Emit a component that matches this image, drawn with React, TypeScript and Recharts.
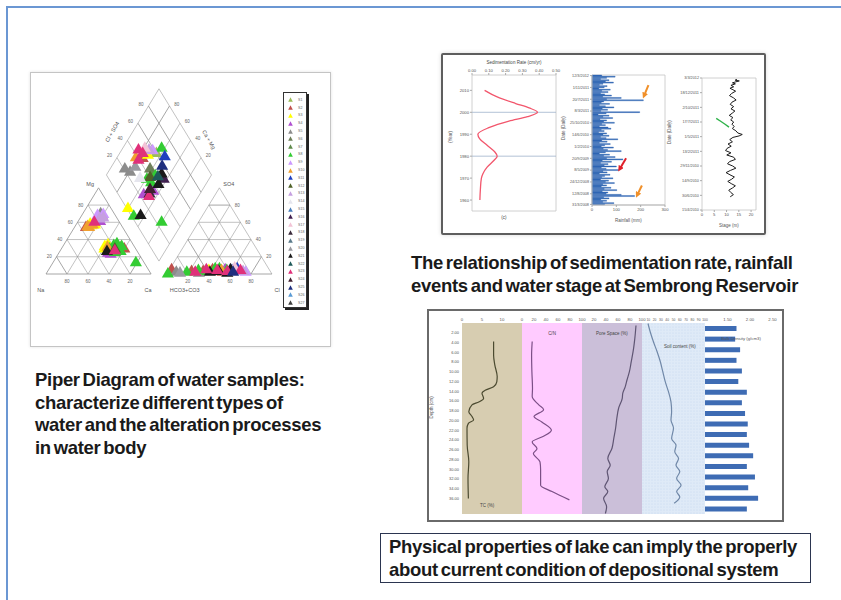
import React from "react";
import {
  Bar,
  BarChart,
  CartesianGrid,
  Line,
  LineChart,
  ReferenceArea,
  ReferenceDot,
  ReferenceLine,
  Scatter,
  ScatterChart,
  XAxis,
  YAxis,
  ZAxis,
} from "recharts";

const FONT = "'Liberation Sans', Arial, sans-serif";
const INK = "#555";

// ---------- Piper diagram ----------
const SAMPLES = [
  "S1", "S2", "S3", "S4", "S5", "S6", "S7", "S8", "S9", "S10", "S11", "S12", "S13", "S14",
  "S15", "S16", "S17", "S18", "S19", "S20", "S21", "S22", "S23", "S24", "S25", "S26", "S27",
];
const SAMPLE_COLORS = [
  "#9bbb59", "#c0504d", "#ffff00", "#b050d0", "#8c8c8c", "#6e7f5a", "#5f8a4a", "#33cc33",
  "#cc99ff", "#f0a030", "#1f3fbf", "#4f6228", "#c6a0e0", "#e6e6ee", "#4a7ebb", "#3f1f4f",
  "#f2c4d6", "#3a2a3a", "#5a7a8a", "#9a9aa0", "#1a1a1a", "#1f5a5a", "#e0307a", "#402030",
  "#1f2f7f", "#5b9bd5", "#404040",
];
// [sample, Ca %, Mg %]  (Na+K = rest)
const CATIONS: [number, number, number][] = [
  [3, 16, 66], [3, 18, 63], [3, 21, 61], [8, 15, 68], [8, 20, 69], [12, 19, 64], [12, 22, 65],
  [4, 17, 70], [4, 20, 67], [22, 16, 60], [2, 13, 58], [2, 15, 56], [2, 18, 57], [2, 17, 59],
  [9, 12, 55], [9, 14, 54], [9, 16, 57], [1, 11, 54],
  [2, 40, 32], [2, 42, 34], [2, 41, 29], [9, 43, 31], [7, 48, 33], [7, 52, 30], [7, 55, 28],
  [7, 50, 35], [7, 58, 26], [7, 53, 25], [7, 46, 29], [7, 56, 32], [1, 56, 31], [1, 60, 29],
  [3, 47, 24], [3, 50, 23], [22, 52, 27], [20, 45, 26], [4, 49, 30], [0, 54, 27], [11, 51, 29],
  [7, 79, 13],
];
// [sample, Cl %, SO4 %]  (HCO3+CO3 = rest)
const ANIONS: [number, number, number][] = [
  [1, 2, 5], [7, 1, 0], [4, 8, 2], [19, 12, 1], [7, 18, 2], [1, 22, 3], [22, 26, 2], [7, 28, 4],
  [4, 30, 1], [1, 33, 3], [22, 35, 5], [7, 37, 3], [2, 38, 4], [20, 40, 2], [1, 41, 5], [7, 43, 6],
  [0, 44, 3], [22, 46, 4], [20, 48, 3], [7, 47, 6], [9, 50, 4], [1, 52, 2], [3, 53, 5], [7, 55, 4],
  [22, 56, 3], [20, 58, 5], [10, 60, 4], [24, 62, 2], [10, 64, 6], [3, 66, 3], [22, 68, 4],
  [12, 71, 3], [20, 57, 1], [16, 61, 7], [8, 74, 2],
];
// [sample, Ca+Mg %, Cl+SO4 %]
const DIAMOND: [number, number, number][] = [
  [22, 84, 45], [22, 78, 47], [16, 79, 52], [2, 72, 51], [9, 82, 38], [10, 55, 66], [7, 63, 68],
  [4, 86, 21], [4, 79, 24], [19, 77, 32], [22, 78, 39], [7, 59, 36], [7, 53, 38], [7, 53, 46],
  [20, 45, 44], [20, 48, 53], [15, 43, 52], [3, 53, 24], [22, 47, 28], [3, 46, 35], [2, 60, 1],
  [7, 50, 2], [20, 44, 9], [7, 20, 25], [0, 65, 60], [8, 70, 58], [12, 74, 55], [11, 57, 40],
  [6, 56, 43], [21, 50, 48], [24, 52, 58], [1, 75, 44], [13, 66, 30], [5, 62, 45], [17, 48, 30],
  [23, 50, 33],
];

// ---------- Sedimentation rate ----------
const SED_YEARS = [1960, 1965, 1970, 1972, 1975, 1978, 1980, 1982, 1985, 1988, 1990, 1993, 1996, 1998, 2000, 2002, 2004, 2007, 2010];
const SED_RATE = [0.047, 0.05, 0.056, 0.065, 0.09, 0.13, 0.15, 0.135, 0.09, 0.045, 0.035, 0.1, 0.22, 0.33, 0.39, 0.34, 0.26, 0.15, 0.075];
const SED_TICKS_YEAR = [1960, 1970, 1980, 1990, 2000, 2010];

// ---------- Rainfall ----------
const RAIN_MM = [
  40, 95, 60, 35, 70, 55, 88, 45, 30, 62, 50, 28, 75, 40, 66, 35, 52, 80, 44, 120,
  60, 211, 48, 38, 72, 30, 55, 90, 42, 64, 36, 196, 58, 25, 70, 45, 85, 33, 60, 48,
  92, 40, 55, 30, 66, 78, 38, 50, 27, 60, 45, 70, 35, 58, 106, 40, 62, 30, 75, 52,
  38, 88, 46, 64, 120, 55, 30, 72, 48, 95, 60, 127, 42, 80, 35, 66, 50, 100, 38, 58,
  110, 45, 62, 30, 74, 52, 40, 86, 35, 68, 55, 92, 44, 60, 38, 78, 50, 102, 42, 65,
  58, 120, 175, 48, 70, 36, 60, 44, 90, 52,
];
const RAIN_DATES = [
  "12/3/2012", "1/11/2011", "20/7/2011", "8/3/2011", "25/10/2010", "14/6/2010",
  "1/2/2010", "20/9/2009", "8/5/2009", "24/12/2008", "12/8/2008", "31/3/2008",
];
const RAIN_TICKS = [0, 10, 20, 30, 40, 50, 60, 70, 80, 90, 100, 109];

// ---------- Water stage ----------
const STAGE_T = [
  0.9, 1.5, 2, 2.6, 3.3, 4, 5, 6, 7, 8, 9, 10.5, 12, 13.5, 15, 16.5, 18, 19.5, 21, 22.5, 24,
  25.5, 27, 28.5, 30, 31.5, 33, 34.5, 36, 37.5, 38.5, 39.5, 40.5, 42, 43.5, 45, 46.5, 48, 49.5,
  51, 52.5, 54, 55.5, 57, 58.5, 60, 61.5, 63, 64.5, 66, 67.5, 69, 70.5, 72, 73.5, 75, 76.5, 78,
  79.5, 81,
];
const STAGE_M = [
  14.2, 13.5, 15.2, 13.8, 12.4, 13.6, 11.8, 12.9, 11.4, 12.6, 13.7, 12.1, 11.2, 12.8, 13.9,
  12.2, 11.5, 12.9, 11.8, 13.4, 12.3, 11.1, 12.6, 11.7, 12.9, 12.2, 13.1, 12.4, 13.8, 14.6,
  16.4, 15.1, 12.6, 11.3, 12.4, 10.6, 11.9, 10.2, 9.6, 11.8, 10.1, 12.9, 13.6, 11.2, 10.4,
  12.5, 13.8, 11.6, 9.8, 11.4, 13.2, 12.1, 10.5, 11.9, 13.6, 12.4, 10.9, 11.7, 12.8, 11.5,
];
const DROP_T = [27.5, 29.5, 31.5, 33.5];
const DROP_M = [5.8, 7.6, 9.4, 11.0];
const STAGE_DATES = [
  "3/3/2012", "18/12/2011", "2/10/2011", "17/7/2011", "1/5/2011",
  "13/2/2011", "29/11/2010", "14/9/2010", "30/6/2010", "15/4/2010",
];

// ---------- Core profile ----------
const DEPTH_TICKS = [2, 4, 6, 8, 10, 12, 14, 16, 18, 20, 22, 24, 26, 28, 30, 32, 34, 36];
const TC_DEPTH = [3.8, 6.6, 8.6, 11.0, 12.1, 13.1, 13.8, 14.4, 15.5, 16.2, 16.8, 18.2, 19.2, 19.9, 20.6, 21.6, 25.1, 28.5, 31.9, 36.0];
const TC_PCT = [7.9, 7.9, 8.2, 8.8, 8.7, 7.9, 5.8, 5.0, 5.4, 4.2, 2.5, 1.7, 2.5, 2.9, 1.6, 1.25, 1.3, 1.7, 1.5, 1.6];
const CN_DEPTH = [3.8, 6.6, 10.0, 13.4, 15.1, 16.8, 17.8, 19.2, 20.3, 22.0, 23.3, 24.4, 25.8, 26.8, 28.5, 30.0, 33.3, 34.6, 36.3];
const CN_VAL = [17, 16, 16.5, 17.5, 17, 28, 36, 20, 33, 49, 35, 17, 25, 19, 30, 31, 31, 50, 79];
const PORE_DEPTH = [0.5, 3.2, 5.2, 8.0, 10.0, 11.7, 13.1, 14.4, 15.5, 17.5, 19.6, 21.6, 23.7, 25.7, 27.8, 29.2, 30.5, 31.9, 33.6, 34.6, 36.0, 37.7, 39.1];
const PORE_PCT = [90, 88, 86, 82, 79, 75, 72, 68, 67, 61, 58, 56, 53, 50, 43, 47, 42, 44, 38, 43, 36, 41, 39];
const SOIL_DEPTH = [0.1, 1.8, 3.8, 5.9, 7.9, 10.0, 12.1, 14.1, 16.2, 18.2, 19.9, 21.6, 23.7, 25.1, 26.4, 27.8, 29.2, 30.5, 31.9, 33.3, 34.6, 35.7, 37.0];
const SOIL_PCT = [9.5, 13, 18, 24, 29, 33, 37, 42, 46, 47, 46, 50, 47, 54, 52, 58, 54, 60, 55, 62, 55, 60, 51];
const BULK_DENSITY = [1.7, 1.67, 1.78, 1.7, 1.82, 1.74, 1.93, 1.82, 1.89, 1.95, 1.93, 1.98, 2.07, 1.93, 2.11, 1.96, 2.18, 1.93];

// ---------- geometry helpers (Piper) ----------
type Pt = { x: number; y: number };
const H = Math.sqrt(3) / 2;
const GAP = 0.15;
const catXY = (ca: number, mg: number): Pt => ({ x: (ca + mg / 2) / 100, y: (mg / 100) * H });
const anXY = (cl: number, so4: number): Pt => ({ x: 1 + GAP + (cl + so4 / 2) / 100, y: (so4 / 100) * H });
const DB: Pt = { x: 1 + GAP / 2, y: GAP * H };
const diaXY = (u: number, v: number): Pt => ({ x: DB.x + (v - u) / 200, y: DB.y + (H * (u + v)) / 100 });
const STEPS = [20, 40, 60, 80];

function triangleSegs(o: number): [Pt, Pt][] {
  const A = { x: o, y: 0 };
  const B = { x: o + 1, y: 0 };
  const C = { x: o + 0.5, y: H };
  const segs: [Pt, Pt][] = [[A, B], [B, C], [C, A]];
  for (const s of STEPS) {
    const k = s / 100;
    segs.push([{ x: o + k / 2, y: k * H }, { x: o + 1 - k / 2, y: k * H }]);
    segs.push([{ x: o + k, y: 0 }, { x: o + (1 + k) / 2, y: (1 - k) * H }]);
    segs.push([{ x: o + 1 - k, y: 0 }, { x: o + (1 - k) / 2, y: (1 - k) * H }]);
  }
  return segs;
}
function diamondSegs(): [Pt, Pt][] {
  const segs: [Pt, Pt][] = [
    [diaXY(0, 0), diaXY(100, 0)],
    [diaXY(100, 0), diaXY(100, 100)],
    [diaXY(100, 100), diaXY(0, 100)],
    [diaXY(0, 100), diaXY(0, 0)],
  ];
  for (const k of STEPS) {
    segs.push([diaXY(k, 0), diaXY(k, 100)]);
    segs.push([diaXY(0, k), diaXY(100, k)]);
  }
  return segs;
}
const PIPER_SEGS = [...triangleSegs(0), ...triangleSegs(1 + GAP), ...diamondSegs()];

const EDGE_LABELS: { p: Pt; t: string }[] = [
  ...STEPS.map((k) => ({ p: { x: catXY(0, k).x - 0.07, y: catXY(0, k).y }, t: String(k) })),
  ...STEPS.map((k) => ({ p: { x: catXY(k, 0).x, y: -0.07 }, t: String(100 - k) })),
  ...STEPS.map((k) => ({ p: { x: anXY(100 - k, k).x + 0.07, y: anXY(100 - k, k).y }, t: String(k) })),
  ...STEPS.map((k) => ({ p: { x: anXY(k, 0).x, y: -0.07 }, t: String(k) })),
  ...STEPS.map((k) => ({ p: { x: diaXY(100, k).x - 0.07, y: diaXY(100, k).y + 0.02 }, t: String(k) })),
  ...STEPS.map((k) => ({ p: { x: diaXY(k, 100).x + 0.07, y: diaXY(k, 100).y + 0.02 }, t: String(k) })),
];
const CORNER_LABELS = [
  { t: "Mg", x: 0.42, y: 0.9, a: 0 },
  { t: "Na", x: -0.05, y: -0.16, a: 0 },
  { t: "Ca", x: 0.97, y: -0.16, a: 0 },
  { t: "HCO3+CO3", x: 1.32, y: -0.16, a: 0 },
  { t: "Cl", x: 2.2, y: -0.16, a: 0 },
  { t: "SO4", x: 1.74, y: 0.9, a: 0 },
  { t: "Cl + SO4", x: 0.63, y: 1.43, a: -60 },
  { t: "Ca + Mg", x: 1.55, y: 1.35, a: 60 },
];

function samplePoints(s: number): Pt[] {
  return [
    ...CATIONS.filter((p) => p[0] === s).map((p) => catXY(p[1], p[2])),
    ...ANIONS.filter((p) => p[0] === s).map((p) => anXY(p[1], p[2])),
    ...DIAMOND.filter((p) => p[0] === s).map((p) => diaXY(p[1], p[2])),
  ];
}

const tick = (size: number) => ({ fontSize: size, fill: INK, fontFamily: FONT });
const abs = (left: number, top: number): React.CSSProperties => ({ position: "absolute", left, top });

function PiperChart() {
  return (
    <div style={abs(30, 72)}>
      <ScatterChart width={301} height={275} margin={{ top: 13, right: 58, bottom: 73, left: 16 }}>
        <XAxis type="number" dataKey="x" domain={[0, 2.16]} hide />
        <YAxis type="number" dataKey="y" domain={[0, 1.9]} hide />
        <ZAxis range={[10, 10]} />
        {PIPER_SEGS.map((s, i) => (
          <ReferenceLine key={i} segment={s} stroke="#8f8f8f" strokeWidth={i % 13 < 3 ? 0.8 : 0.55} ifOverflow="visible" />
        ))}
        {EDGE_LABELS.map((l, i) => (
          <ReferenceDot key={"e" + i} x={l.p.x} y={l.p.y} r={0} fill="none" stroke="none" ifOverflow="visible"
            label={{ value: l.t, position: "center", fontSize: 4.5, fill: "#666" }} />
        ))}
        {CORNER_LABELS.map((l, i) => (
          <ReferenceDot key={"c" + i} x={l.x} y={l.y} r={0} fill="none" stroke="none" ifOverflow="visible"
            label={{ value: l.t, position: "center", fontSize: 5.5, fill: "#555", angle: l.a }} />
        ))}
        {SAMPLES.map((name, s) => (
          <Scatter key={name} name={name} data={samplePoints(s)} shape="triangle" fill={SAMPLE_COLORS[s]} isAnimationActive={false} />
        ))}
      </ScatterChart>
    </div>
  );
}

function PiperLegend() {
  return (
    <div style={{ ...abs(283, 92), width: 24, height: 216, background: "#fff", border: "1px solid #333", boxShadow: "2px 2px 0 #222", paddingTop: 3, boxSizing: "border-box" }}>
      {SAMPLES.map((name, s) => (
        <div key={name} style={{ height: 7.8, display: "flex", alignItems: "center", fontSize: 3.6, color: "#666", fontFamily: FONT }}>
          <svg width={5} height={5} style={{ marginLeft: 4, marginRight: 5 }}>
            <polygon points="2.5,0.3 4.8,4.7 0.2,4.7" fill={SAMPLE_COLORS[s]} />
          </svg>
          {name}
        </div>
      ))}
    </div>
  );
}

function SedimentChart() {
  const data = SED_YEARS.map((y, i) => ({ year: y, rate: SED_RATE[i] }));
  return (
    <div style={abs(443, 55)}>
      <LineChart width={118} height={178} data={data} margin={{ top: 12, right: 5, bottom: 22, left: 5 }}>
        <XAxis type="number" dataKey="rate" orientation="top" domain={[0, 0.5]} ticks={[0, 0.1, 0.2, 0.3, 0.4, 0.5]}
          tickFormatter={(v: number) => v.toFixed(2)} height={8} tick={tick(4.2)} tickSize={2} tickMargin={1}
          axisLine={false} tickLine={{ stroke: "#aaa" }} interval={0} />
        <YAxis type="number" domain={[1955, 2017]} ticks={SED_TICKS_YEAR} width={24} tick={tick(4.2)} tickSize={2}
          tickMargin={1} axisLine={false} tickLine={{ stroke: "#aaa" }} interval={0}
          label={{ value: "(Year)", angle: -90, position: "insideLeft", offset: 2, fontSize: 4.5, fill: INK }} />
        <ReferenceArea x1={0} x2={0.5} fill="none" stroke="#c4c4c4" strokeWidth={0.8} />
        <ReferenceLine y={2000} stroke="#9fb3cc" strokeWidth={0.8} />
        <ReferenceLine y={1980} stroke="#9fb3cc" strokeWidth={0.8} />
        <ReferenceDot x={0.25} y={2017} r={0} fill="none" stroke="none" ifOverflow="visible"
          label={{ value: "Sedimentation Rate (cm/yr)", position: "top", offset: 11, fontSize: 4.5, fill: "#444" }} />
        <ReferenceDot x={0.19} y={1955} r={0} fill="none" stroke="none" ifOverflow="visible"
          label={{ value: "(c)", position: "bottom", offset: 5, fontSize: 4.5, fill: "#444" }} />
        <Line dataKey="year" type="monotoneY" stroke="#f2566c" strokeWidth={1.3} dot={false} isAnimationActive={false} />
      </LineChart>
    </div>
  );
}

function RainfallChart() {
  const data = RAIN_MM.map((mm, i) => ({ i, mm }));
  const arrows = [
    { from: { x: 232, y: 8 }, to: { x: 214, y: 17 }, c: "#f0902a", m: "url(#arrO)" },
    { from: { x: 140, y: 70 }, to: { x: 114, y: 79 }, c: "#e0202a", m: "url(#arrR)" },
    { from: { x: 205, y: 93 }, to: { x: 186, y: 101 }, c: "#f0902a", m: "url(#arrO)" },
  ];
  return (
    <div style={abs(560, 55)}>
      <BarChart layout="vertical" width={110} height={178} data={data} barCategoryGap={0}
        margin={{ top: 20, right: 5, bottom: 5, left: 0 }}>
        <defs>
          <marker id="arrO" markerWidth="3" markerHeight="3" refX="1.5" refY="1.5" orient="auto">
            <path d="M0,0 L3,1.5 L0,3 z" fill="#f0902a" />
          </marker>
          <marker id="arrR" markerWidth="3" markerHeight="3" refX="1.5" refY="1.5" orient="auto">
            <path d="M0,0 L3,1.5 L0,3 z" fill="#e0202a" />
          </marker>
        </defs>
        <XAxis type="number" dataKey="mm" domain={[0, 300]} ticks={[0, 100, 200, 300]} height={23} tick={tick(4.2)}
          tickSize={2} tickMargin={1} axisLine={{ stroke: "#bbb" }} tickLine={{ stroke: "#aaa" }} interval={0}
          label={{ value: "Rainfall (mm)", position: "insideBottom", offset: 6, fontSize: 4.5, fill: INK }} />
        <YAxis type="category" dataKey="i" width={32} ticks={RAIN_TICKS} interval={0} tick={tick(3.8)} tickSize={2}
          tickMargin={1} axisLine={{ stroke: "#bbb" }} tickLine={{ stroke: "#aaa" }}
          tickFormatter={(v: number) => RAIN_DATES[RAIN_TICKS.indexOf(v)] ?? ""}
          label={{ value: "Date (Daily)", angle: -90, position: "insideLeft", offset: 3, fontSize: 4.5, fill: INK }} />
        <ReferenceArea x1={0} x2={300} fill="none" stroke="#c4c4c4" strokeWidth={0.8} />
        <Bar dataKey="mm" fill="#2f66b3" stroke="#2f66b3" strokeWidth={0.35} isAnimationActive={false} />
        {arrows.map((a, k) => (
          <ReferenceLine key={k} segment={[a.from, a.to]} stroke={a.c} strokeWidth={2} markerEnd={a.m} ifOverflow="visible" />
        ))}
      </BarChart>
    </div>
  );
}

function StageChart() {
  const main = STAGE_T.map((t, i) => ({ t, v: STAGE_M[i] }));
  const drop = DROP_T.map((t, i) => ({ t, v: DROP_M[i] }));
  return (
    <div style={abs(666, 55)}>
      <LineChart width={97} height={178} margin={{ top: 23, right: 7, bottom: 0, left: 0 }}>
        <XAxis type="number" dataKey="v" domain={[0, 22]} ticks={[0, 5, 10, 15, 20]} height={23} tick={tick(4.2)}
          tickSize={2} tickMargin={1} axisLine={false} tickLine={{ stroke: "#aaa" }} interval={0}
          label={{ value: "Stage (m)", position: "insideBottom", offset: 6, fontSize: 4.5, fill: INK }} />
        <YAxis type="number" domain={[0, 90]} reversed ticks={[0, 10, 20, 30, 40, 50, 60, 70, 80, 90]} width={36}
          tick={tick(3.8)} tickSize={2} tickMargin={1} axisLine={false} tickLine={{ stroke: "#aaa" }} interval={0}
          tickFormatter={(v: number) => STAGE_DATES[v / 10]}
          label={{ value: "Date (Daily)", angle: -90, position: "insideLeft", offset: 3, fontSize: 4.5, fill: INK }} />
        <ReferenceArea x1={0} x2={22} fill="none" stroke="#c4c4c4" strokeWidth={0.8} />
        <Line data={main} dataKey="t" type="linear" stroke="#1c1c1c" strokeWidth={1} dot={false} isAnimationActive={false} />
        <Line data={drop} dataKey="t" type="linear" stroke="#2fb24a" strokeWidth={1.4} dot={false} isAnimationActive={false} />
      </LineChart>
    </div>
  );
}

type ProfileProps = {
  left: number;
  width: number;
  depth: number[];
  values: number[];
  domain: [number, number];
  ticks: number[];
  bg: string;
  stroke: string;
  showDepth?: boolean;
  tickSize?: number;
  title?: { text: string; x: number; y: number };
  dots?: boolean;
};

function ProfileChart(p: ProfileProps) {
  const data = p.depth.map((d, i) => ({ d, v: p.values[i] }));
  const yw = p.showDepth ? 33 : 0;
  return (
    <div style={abs(p.left - yw, 311)}>
      <LineChart width={p.width + yw} height={207} data={data} margin={{ top: 2, right: 0, bottom: 4, left: 0 }}>
        {p.dots && (
          <defs>
            <pattern id="dots" width="3" height="3" patternUnits="userSpaceOnUse">
              <circle cx="1" cy="1" r="0.45" fill="#a9c3e3" />
            </pattern>
          </defs>
        )}
        <CartesianGrid fill={p.bg} horizontal={false} vertical={false} />
        {p.dots && <ReferenceArea x1={p.domain[0]} x2={p.domain[1]} fill="url(#dots)" fillOpacity={1} />}
        <XAxis type="number" dataKey="v" orientation="top" domain={p.domain} ticks={p.ticks} interval={0} height={10}
          tick={tick(p.tickSize ?? 4.3)} tickSize={1} tickMargin={1} axisLine={false} tickLine={false} />
        <YAxis type="number" domain={[0, 39.2]} reversed ticks={DEPTH_TICKS} interval={0} hide={!p.showDepth}
          width={yw} tick={tick(4)} tickSize={2} tickMargin={1} axisLine={false} tickLine={false}
          tickFormatter={(v: number) => v.toFixed(2)}
          label={{ value: "Depth (cm)", angle: -90, position: "insideLeft", offset: 2, fontSize: 4.5, fill: INK }} />
        {p.title && (
          <ReferenceDot x={p.title.x} y={p.title.y} r={0} fill="none" stroke="none" ifOverflow="visible"
            label={{ value: p.title.text, position: "center", fontSize: 4.5, fill: "#444" }} />
        )}
        <Line dataKey="d" type="monotoneY" stroke={p.stroke} strokeWidth={1.2} dot={false} isAnimationActive={false} />
      </LineChart>
    </div>
  );
}

function BulkDensityChart() {
  const data = BULK_DENSITY.map((g, k) => ({ k, g }));
  return (
    <div style={abs(705, 311)}>
      <BarChart layout="vertical" width={76} height={207} data={data} barCategoryGap={0}
        margin={{ top: 2, right: 4, bottom: 4, left: 0 }}>
        <XAxis type="number" dataKey="g" orientation="top" domain={[1.0, 2.6]} ticks={[1.5, 2.0, 2.5]} interval={0}
          height={10} tick={tick(4.3)} tickSize={1} tickMargin={1} axisLine={false} tickLine={false}
          tickFormatter={(v: number) => v.toFixed(2)} />
        <YAxis type="category" dataKey="k" hide />
        <Bar dataKey="g" barSize={5} fill="#3e6cb4" isAnimationActive={false} />
        <ReferenceDot x={1.8} y={1} r={0} fill="none" stroke="none" ifOverflow="visible"
          label={{ value: "Bulk Density (g/cm3)", position: "center", fontSize: 4.3, fill: "#555" }} />
      </BarChart>
    </div>
  );
}

const caption: React.CSSProperties = {
  position: "absolute",
  fontFamily: FONT,
  fontWeight: 700,
  fontSize: 18.5,
  lineHeight: "22.5px",
  color: "#1a1a1a",
  letterSpacing: -0.3,
  wordSpacing: -2,
  whiteSpace: "nowrap",
};

export default function App() {
  return (
    <div style={{ position: "fixed", left: 0, top: 0, width: 841, height: 600, overflow: "hidden", background: "#fff", fontFamily: FONT }}>
      <style>{".recharts-surface{overflow:visible}"}</style>
      <div style={{ position: "absolute", left: 6, top: 6, width: 900, height: 700, borderTop: "2px solid #6b97d3", borderLeft: "2px solid #6b97d3" }} />

      {/* Piper panel */}
      <div style={{ ...abs(30, 72), width: 301, height: 275, border: "1px solid #c4c4c4", boxSizing: "border-box", boxShadow: "0 0 3px rgba(0,0,0,0.12)" }} />
      <PiperChart />
      <PiperLegend />
      <div style={{ ...caption, left: 35, top: 369 }}>
        Piper Diagram of water samples:<br />characterize different types of<br />water and the alteration processes<br />in water body
      </div>

      {/* Sedimentation / rainfall / stage panel */}
      <div style={{ ...abs(441, 53), width: 325, height: 182, border: "2px solid #5e5e5e", borderRadius: 2, boxSizing: "border-box", boxShadow: "0 0 4px rgba(0,0,0,0.15)" }} />
      <SedimentChart />
      <RainfallChart />
      <StageChart />
      <div style={{ ...caption, left: 411, top: 252 }}>
        The relationship of sedimentation rate, rainfall<br />events and water stage at Sembrong Reservoir
      </div>

      {/* Core profile panel */}
      <div style={{ ...abs(427, 309), width: 357, height: 213, border: "2px solid #6a6a6a", boxSizing: "border-box" }} />
      <ProfileChart left={462} width={60} depth={TC_DEPTH} values={TC_PCT} domain={[0, 15]} ticks={[0, 5, 10]}
        bg="#d7cdb1" stroke="#4b4a30" showDepth title={{ text: "TC (%)", x: 6.3, y: 37.4 }} />
      <ProfileChart left={522} width={60} depth={CN_DEPTH} values={CN_VAL} domain={[0, 100]} ticks={[0, 20, 40, 60, 80, 100]}
        bg="#ffcbff" stroke="#7b4f86" title={{ text: "C/N", x: 50, y: 2.1 }} />
      <ProfileChart left={582} width={60} depth={PORE_DEPTH} values={PORE_PCT} domain={[0, 100]} ticks={[20, 40, 60, 80, 100]}
        bg="#cbbfd9" stroke="#5f5573" title={{ text: "Pore Space (%)", x: 50, y: 2.1 }} />
      <ProfileChart left={642} width={63} depth={SOIL_DEPTH} values={SOIL_PCT} domain={[0, 100]}
        ticks={[10, 20, 30, 40, 50, 60, 70, 80, 90, 100]} tickSize={3.3} dots
        bg="#dfeaf7" stroke="#7088a8" title={{ text: "Soil content (%)", x: 60, y: 4.9 }} />
      <BulkDensityChart />

      <div style={{ ...abs(380, 533), width: 431, height: 50, border: "1.5px solid #2b3550", boxSizing: "border-box" }} />
      <div style={{ ...caption, left: 389, top: 536 }}>
        Physical properties of lake can imply the properly<br />about current condition of depositional system
      </div>
    </div>
  );
}
